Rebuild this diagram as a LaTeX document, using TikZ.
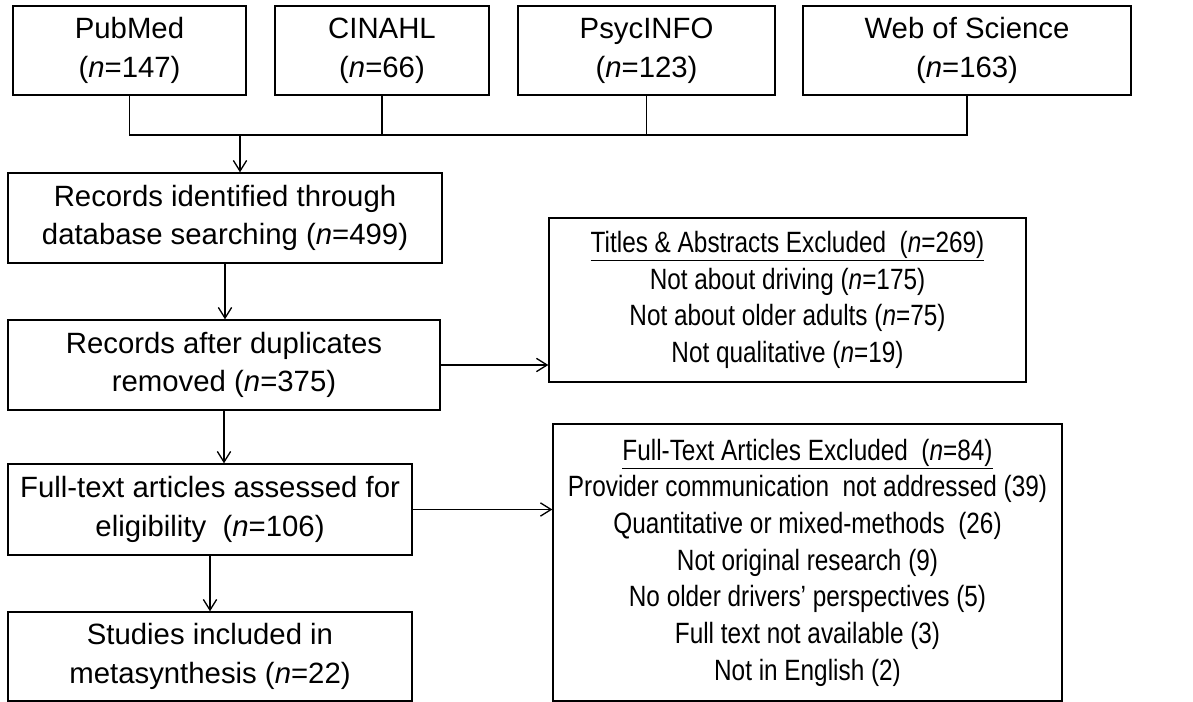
\documentclass[tikz,border=0pt]{standalone}
\usepackage{fontspec}
\setmainfont{Liberation Sans}
\newfontfamily\narrowfont[FakeStretch=0.83]{Liberation Sans}
\usetikzlibrary{arrows.meta}
\newcommand{\ArrTip}{Straight Barb[length=8,width=10]}
\newcommand{\nn}[1]{(\textit{n}=#1)}
\tikzset{box/.style={draw,rectangle,inner sep=0pt,align=center,line width=1pt,font=\fontsize{22}{29}\selectfont}}
\tikzset{nbox/.style={box,font=\narrowfont\fontsize{22}{27.5}\selectfont}}
\tikzset{boxsize/.style 2 args={minimum width=#1*.75pt,minimum height=#2*.75pt}}
\tikzset{flow/.style={-{\ArrTip},line width=1pt}}
\begin{document}
\begin{tikzpicture}[x=.75pt,y=-.75pt]
\useasboundingbox(0,0)rectangle(1193,702);
% databases
\node(pub)[box,boxsize={233}{89}]at(129.5,50.5){PubMed\\\nn{147}};
\node(cin)[box,boxsize={214}{89}]at(382,50.5){CINAHL\\\nn{66}};
\node(psy)[box,boxsize={257}{89}]at(646.5,50.5){PsycINFO\\\nn{123}};
\node(wos)[box,boxsize={328}{89}]at(967,50.5){Web of Science\\\nn{163}};
% main flow
\node(ident)[box,boxsize={434}{90}]at(225,218){Records identified through\\database searching \nn{499}};
\node(dup)[box,boxsize={432}{90}]at(224,365){Records after duplicates\\removed \nn{375}};
\node(full)[box,boxsize={404}{91}]at(210,509.5){Full-text articles assessed for\\eligibility\ \ \nn{106}};
\node(incl)[box,boxsize={404}{89}]at(210,656.5){Studies included in\\metasynthesis \nn{22}};
% exclusions
\node(tiab)[nbox,boxsize={477}{164}]at(787.5,300){\underline{Titles \& Abstracts Excluded\ \ \nn{269}}\\Not about driving \nn{175}\\Not about older adults \nn{75}\\Not qualitative \nn{19}};
\node(ftex)[nbox,boxsize={509}{277}]at(807.5,562.5){\underline{Full-Text Articles Excluded\ \ \nn{84}}\\Provider communication\ \ not addressed (39)\\Quantitative or mixed-methods\ \ (26)\\Not original research (9)\\No older drivers’ perspectives (5)\\Full text not available (3)\\Not in English (2)};
\coordinate(bus)at(240,135);
\draw[line width=1pt](pub.south)|-(bus)-|(wos.south);
\draw[line width=1pt](cin.south)--(cin.south|-bus);\draw[line width=1pt](psy.south)--(psy.south|-bus);
\draw[flow](bus)--(bus|-ident.north);
\draw[flow](ident)--(ident.south|-dup.north);
\draw[flow](dup.south)--(dup.south|-full.north);\draw[flow](full)--(incl);
\draw[flow](dup.east)--(dup.east-|tiab.west);\draw[flow](full.east)--(full.east-|ftex.west);
\end{tikzpicture}
\end{document}
